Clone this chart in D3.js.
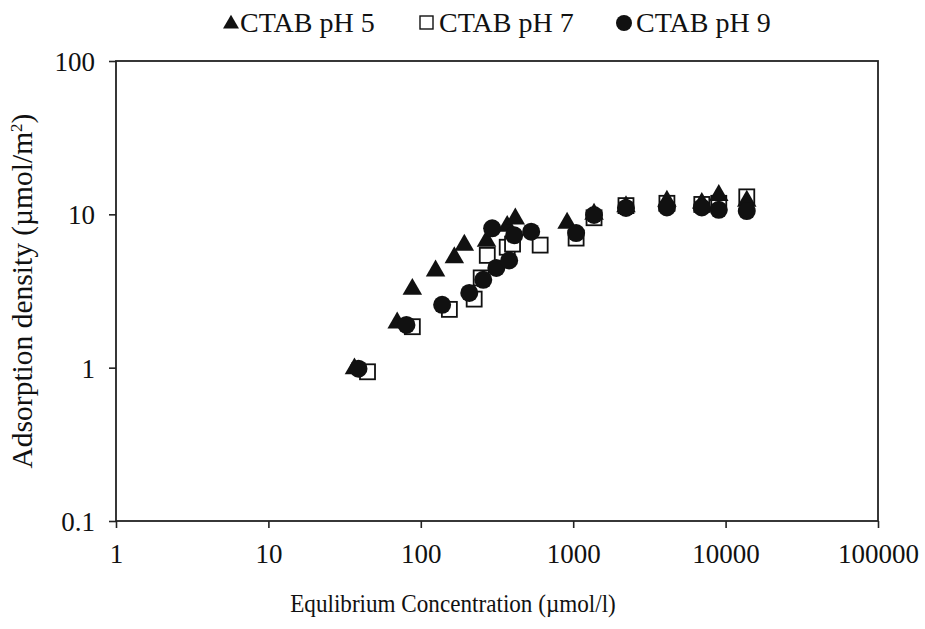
<!DOCTYPE html>
<html>
<head>
<meta charset="utf-8">
<script src="https://cdn.jsdelivr.net/npm/d3@7"></script>
<style>
  body { margin: 0; background: #fff; }
  text { font-family: "Liberation Serif", "Times New Roman", serif; fill: #111; }
</style>
</head>
<body>
<div class="graph"></div>
<script>

// data

var xTicks = [1, 10, 100, 1000, 10000, 100000];
var yTicks = [0.1, 1, 10, 100];

var ph5X = [36.7, 70, 88, 125, 166, 193, 270, 369, 417, 912, 1370, 2220, 4120, 6980, 9020, 13770];
var ph5Y = [1.0, 1.99, 3.3, 4.35, 5.3, 6.4, 6.8, 8.5, 9.5, 8.9, 10.2, 11.4, 12.4, 12.0, 13.5, 12.4];

var ph7X = [44.7, 88, 154, 224, 249, 273, 369, 400, 607, 1045, 1370, 2220, 4120, 6980, 9020, 13770];
var ph7Y = [0.94, 1.85, 2.4, 2.8, 3.85, 5.4, 6.1, 6.4, 6.3, 7.0, 9.5, 11.4, 11.8, 11.6, 11.8, 13.0];

var ph9X = [39, 80.5, 138, 208, 257, 313, 380, 294, 410, 530, 1045, 1370, 2220, 4120, 6980, 9020, 13770];
var ph9Y = [0.985, 1.9, 2.57, 3.07, 3.74, 4.47, 5.0, 8.1, 7.3, 7.7, 7.55, 9.9, 11.0, 11.1, 11.1, 10.7, 10.5];

var legendLabels = ["CTAB pH 5", "CTAB pH 7", "CTAB pH 9"];

//prepare SVG

var svgWidth = 925;
var svgHeight = 629;

var plotLeft = 116, plotTop = 61, plotRight = 878, plotBottom = 521;

var svg = d3.select("div.graph")
	.append("svg")
	.attr("width", svgWidth)
	.attr("height", svgHeight);

var x = d3.scaleLog().domain([1, 100000]).range([plotLeft, plotRight]);
var y = d3.scaleLog().domain([0.1, 100]).range([plotBottom, plotTop]);

function pairs(xs, ys) {
	return xs.map(function(d, i) { return {x: d, y: ys[i]}; });
}

// axes

var xAxis = d3.axisBottom(x).tickValues(xTicks).tickFormat(d3.format("d")).tickSize(7).tickPadding(12);
var yAxis = d3.axisLeft(y).tickValues(yTicks).tickFormat(function(d) { return d < 1 ? "0.1" : d3.format("d")(d); }).tickSize(7).tickPadding(14);

var gx = svg.append("g").attr("transform", "translate(0," + plotBottom + ")").call(xAxis);
var gy = svg.append("g").attr("transform", "translate(" + plotLeft + ",0)").call(yAxis);

[gx, gy].forEach(function(g) {
	g.select(".domain").remove();
	g.selectAll(".tick line").attr("stroke", "#222").attr("stroke-width", 1.6);
	g.selectAll(".tick text")
		.style("font-size", "27px")
		.style("font-family", "Liberation Serif")
		.attr("fill", "#111");
});
gx.selectAll(".tick text").attr("dy", "0.85em");
gy.selectAll(".tick text").attr("dy", "0.35em");

// frame
svg.append("rect")
	.attr("x", plotLeft).attr("y", plotTop)
	.attr("width", plotRight - plotLeft).attr("height", plotBottom - plotTop)
	.attr("fill", "none").attr("stroke", "#222").attr("stroke-width", 1.8);

// titles
svg.append("text")
	.attr("transform", "translate(453,612) scale(0.89,1)")
	.attr("text-anchor", "middle")
	.style("font-size", "26px")
	.text("Equlibrium Concentration (µmol/l)");

var yt = svg.append("text")
	.attr("transform", "translate(32," + 291 + ") rotate(-90)")
	.attr("text-anchor", "middle")
	.style("font-size", "29.5px");
yt.append("tspan").text("Adsorption density (µmol/m");
yt.append("tspan").attr("dy", -10).style("font-size", "17px").text("2");
yt.append("tspan").attr("dy", 10).text(")");

// marks

var gMarks = svg.append("g");

var sq = 15;
gMarks.selectAll("rect.ph7")
	.data(pairs(ph7X, ph7Y))
	.enter()
	.append("rect")
	.attr("class", "ph7")
	.attr("x", function(d) { return x(d.x) - sq / 2; })
	.attr("y", function(d) { return y(d.y) - sq / 2; })
	.attr("width", sq).attr("height", sq)
	.attr("fill", "#fff").attr("stroke", "#111").attr("stroke-width", 1.8);

var tri = d3.symbol().type(d3.symbolTriangle).size(165);
gMarks.selectAll("path.ph5")
	.data(pairs(ph5X, ph5Y))
	.enter()
	.append("path")
	.attr("class", "ph5")
	.attr("d", tri)
	.attr("transform", function(d) { return "translate(" + x(d.x) + "," + (y(d.y) + 1) + ")"; })
	.attr("fill", "#111");

gMarks.selectAll("circle.ph9")
	.data(pairs(ph9X, ph9Y))
	.enter()
	.append("circle")
	.attr("class", "ph9")
	.attr("cx", function(d) { return x(d.x); })
	.attr("cy", function(d) { return y(d.y); })
	.attr("r", 9)
	.attr("fill", "#111");

// legend

var legX = [222, 418, 615];
var gLeg = svg.append("g");

gLeg.append("path")
	.attr("d", d3.symbol().type(d3.symbolTriangle).size(110))
	.attr("transform", "translate(" + (legX[0] + 9) + ",24)")
	.attr("fill", "#111");
gLeg.append("rect")
	.attr("x", legX[1] + 2).attr("y", 16).attr("width", 13).attr("height", 13)
	.attr("fill", "#fff").attr("stroke", "#111").attr("stroke-width", 1.4);
gLeg.append("circle")
	.attr("cx", legX[2] + 9).attr("cy", 23).attr("r", 8)
	.attr("fill", "#111");

gLeg.selectAll("text")
	.data(legendLabels)
	.enter()
	.append("text")
	.attr("x", function(d, i) { return legX[i] + (i === 0 ? 18 : 21); })
	.attr("y", 32)
	.style("font-size", "28px")
	.text(function(d) { return d; });

</script>
</body>
</html>
